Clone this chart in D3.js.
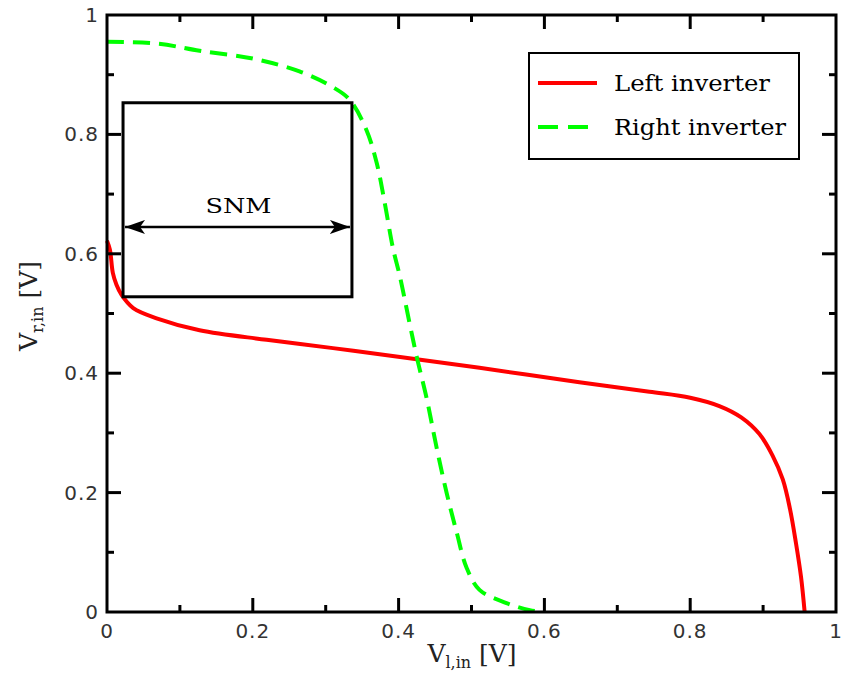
<!DOCTYPE html>
<html>
<head>
<meta charset="utf-8">
<script src="https://cdn.jsdelivr.net/npm/d3@7"></script>
<style>
  body { margin: 0; background: #fff; }
  svg { display: block; }
</style>
</head>
<body>
<svg id="chart" width="842" height="678"></svg>
<script>
// values
var leftInverter = [
  [0, 0.622], [0.004, 0.607], [0.008, 0.568], [0.013, 0.548], [0.02, 0.531],
  [0.036, 0.509], [0.068, 0.492], [0.127, 0.472], [0.219, 0.456], [0.31, 0.442],
  [0.402, 0.427], [0.511, 0.409], [0.648, 0.385], [0.744, 0.369], [0.8, 0.359],
  [0.84, 0.345], [0.87, 0.326], [0.895, 0.298], [0.913, 0.262], [0.927, 0.222],
  [0.937, 0.172], [0.945, 0.116], [0.952, 0.059], [0.957, 0]
];
var rightInverter = [
  [0, 0.955], [0.07, 0.952], [0.127, 0.94], [0.2, 0.927], [0.265, 0.905],
  [0.31, 0.879], [0.333, 0.858], [0.356, 0.807], [0.37, 0.752], [0.381, 0.685],
  [0.392, 0.611], [0.402, 0.561], [0.415, 0.484], [0.425, 0.427], [0.439, 0.355],
  [0.452, 0.276], [0.466, 0.199], [0.48, 0.132], [0.493, 0.075], [0.511, 0.037],
  [0.548, 0.015], [0.58, 0.003], [0.598, 0]
];
var seriesNames = ['Left inverter', 'Right inverter'];
var snmBox = { x0: 0.022, x1: 0.336, y0: 0.528, y1: 0.853, arrowY: 0.645 };
var majorTicks = [0, 0.2, 0.4, 0.6, 0.8, 1];
var tickLabels = ['0', '0.2', '0.4', '0.6', '0.8', '1'];
var minorTicks = [0.1, 0.3, 0.5, 0.7, 0.9];

var svg = d3.select('#chart');
// note: "top" is taken by window.top, so use plotX names
var plotL = 107, plotR = 836, plotT = 15, plotB = 612;

var x = d3.scaleLinear().domain([0, 1]).range([plotL, plotR]);
var y = d3.scaleLinear().domain([0, 1]).range([plotB, plotT]);

var serif = '"DejaVu Serif", serif';
var sans = '"DejaVu Sans", sans-serif';

// arrow marker for SNM
var defs = svg.append('defs');
defs.append('marker')
  .attr('id', 'arr')
  .attr('viewBox', '0 0 20 14')
  .attr('refX', 20).attr('refY', 7)
  .attr('markerWidth', 20).attr('markerHeight', 14)
  .attr('markerUnits', 'userSpaceOnUse')
  .attr('orient', 'auto-start-reverse')
  .append('path')
  .attr('d', 'M0,0 L20,7 L0,14 L5,7 Z')
  .attr('fill', '#000');

// curves
var line = d3.line()
  .x(function(d) { return x(d[0]); })
  .y(function(d) { return y(d[1]); })
  .curve(d3.curveCatmullRom.alpha(0.5));

svg.append('path')
  .datum(leftInverter)
  .attr('d', line)
  .attr('fill', 'none')
  .attr('stroke', '#ff0000')
  .attr('stroke-width', 4);

svg.append('path')
  .datum(rightInverter)
  .attr('d', line)
  .attr('fill', 'none')
  .attr('stroke', '#00ff00')
  .attr('stroke-width', 4)
  .attr('stroke-dasharray', '17,9');

// SNM box
svg.append('rect')
  .attr('x', x(snmBox.x0))
  .attr('y', y(snmBox.y1))
  .attr('width', x(snmBox.x1) - x(snmBox.x0))
  .attr('height', y(snmBox.y0) - y(snmBox.y1))
  .attr('fill', 'none')
  .attr('stroke', '#000')
  .attr('stroke-width', 3);

svg.append('line')
  .attr('x1', x(snmBox.x0) + 2).attr('x2', x(snmBox.x1) - 2)
  .attr('y1', y(snmBox.arrowY)).attr('y2', y(snmBox.arrowY))
  .attr('stroke', '#000')
  .attr('stroke-width', 2.5)
  .attr('marker-start', 'url(#arr)')
  .attr('marker-end', 'url(#arr)');

svg.append('text')
  .attr('x', (x(snmBox.x0) + x(snmBox.x1)) / 2 + 1)
  .attr('y', y(snmBox.arrowY) - 14)
  .attr('text-anchor', 'middle')
  .attr('font-family', serif)
  .attr('font-size', 21)
  .attr('textLength', 66)
  .attr('lengthAdjust', 'spacingAndGlyphs')
  .text('SNM');

// frame
svg.append('rect')
  .attr('x', plotL).attr('y', plotT)
  .attr('width', plotR - plotL).attr('height', plotB - plotT)
  .attr('fill', 'none')
  .attr('stroke', '#000')
  .attr('stroke-width', 3);

// ticks on all four sides, inward
var ticks = svg.append('g').attr('stroke', '#000').attr('stroke-width', 3);
function drawTicks(vals, len) {
  vals.forEach(function(v) {
    if (v === 0 || v === 1) return;
    ticks.append('line').attr('x1', x(v)).attr('x2', x(v)).attr('y1', plotB).attr('y2', plotB - len);
    ticks.append('line').attr('x1', x(v)).attr('x2', x(v)).attr('y1', plotT).attr('y2', plotT + len);
    ticks.append('line').attr('y1', y(v)).attr('y2', y(v)).attr('x1', plotL).attr('x2', plotL + len);
    ticks.append('line').attr('y1', y(v)).attr('y2', y(v)).attr('x1', plotR).attr('x2', plotR - len);
  });
}
drawTicks(majorTicks, 14);
drawTicks(minorTicks, 7);

// tick labels
svg.append('g').selectAll('text')
  .data(majorTicks)
  .join('text')
  .attr('x', function(d) { return x(d); })
  .attr('y', plotB + 26)
  .attr('text-anchor', 'middle')
  .attr('font-family', sans)
  .attr('font-size', 20)
  .attr('letter-spacing', 1)
  .attr('fill', '#333')
  .text(function(d, i) { return tickLabels[i]; });

svg.append('g').selectAll('text')
  .data(majorTicks)
  .join('text')
  .attr('x', plotL - 8)
  .attr('y', function(d) { return y(d) + 7; })
  .attr('text-anchor', 'end')
  .attr('font-family', sans)
  .attr('font-size', 20)
  .attr('letter-spacing', 1)
  .attr('fill', '#333')
  .text(function(d, i) { return tickLabels[i]; });

// axis titles
var xt = svg.append('text')
  .attr('x', 472).attr('y', 662)
  .attr('text-anchor', 'middle')
  .attr('font-family', serif)
  .attr('font-size', 25)
  .attr('fill', '#222');
xt.append('tspan').text('V');
xt.append('tspan').attr('font-size', 16).attr('dy', 6).text('l,in');
xt.append('tspan').attr('dy', -6).text(' [V]');

var yt = svg.append('text')
  .attr('transform', 'translate(37,306) rotate(-90)')
  .attr('text-anchor', 'middle')
  .attr('font-family', serif)
  .attr('font-size', 25)
  .attr('fill', '#222');
yt.append('tspan').text('V');
yt.append('tspan').attr('font-size', 16).attr('dy', 6).text('r,in');
yt.append('tspan').attr('dy', -6).text(' [V]');

// legend
var lg = svg.append('g');
lg.append('rect')
  .attr('x', 529).attr('y', 53)
  .attr('width', 270).attr('height', 106)
  .attr('fill', '#fff')
  .attr('stroke', '#000')
  .attr('stroke-width', 2);

var legendRows = [
  { name: seriesNames[0], color: '#ff0000', dash: null, cy: 83 },
  { name: seriesNames[1], color: '#00ff00', dash: '20,10', cy: 127 }
];
legendRows.forEach(function(r) {
  lg.append('line')
    .attr('x1', 538).attr('x2', 597)
    .attr('y1', r.cy).attr('y2', r.cy)
    .attr('stroke', r.color)
    .attr('stroke-width', 4)
    .attr('stroke-dasharray', r.dash);
  lg.append('text')
    .attr('x', 614).attr('y', r.cy + 8)
    .attr('font-family', serif)
    .attr('font-size', 22)
    .attr('textLength', r.cy < 100 ? 156 : 172)
    .attr('lengthAdjust', 'spacingAndGlyphs')
    .text(r.name);
});
</script>
</body>
</html>
